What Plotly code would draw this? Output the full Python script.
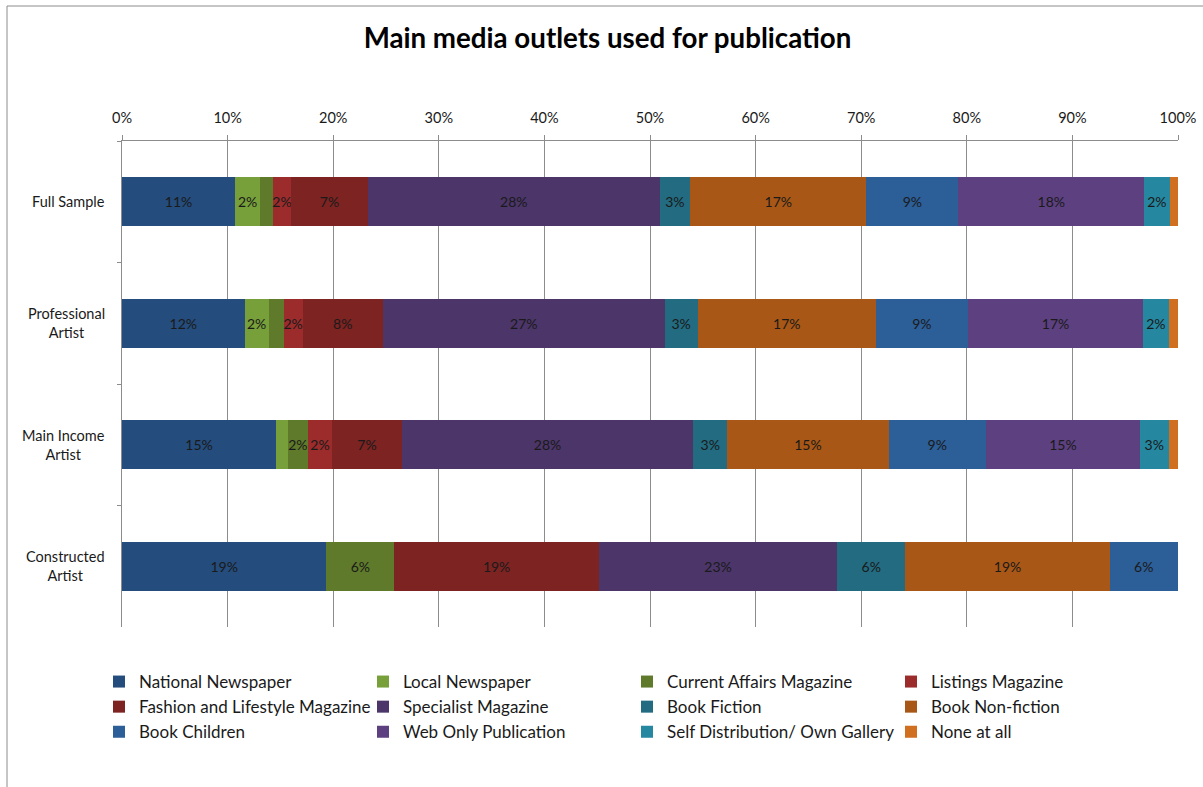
import plotly.graph_objects as go

# Respondent groups (top to bottom)
groups = ["Full Sample", "Professional Artist", "Main Income Artist", "Constructed Artist"]
group_labels = ["Full Sample", "Professional<br>Artist", "Main Income<br>Artist", "Constructed<br>Artist"]

# Media outlets, in stacking order
outlets = [
    "National Newspaper", "Local Newspaper", "Current Affairs Magazine", "Listings Magazine",
    "Fashion and Lifestyle Magazine", "Specialist Magazine", "Book Fiction", "Book Non-fiction",
    "Book Children", "Web Only Publication", "Self Distribution/ Own Gallery", "None at all",
]

# Share of each outlet (%) per group, same order as `groups`
national_newspaper = [10.7, 11.6, 14.6, 19.35]
local_newspaper = [2.4, 2.3, 1.1, 0.0]
current_affairs = [1.2, 1.4, 1.9, 6.45]
listings_magazine = [1.7, 1.8, 2.3, 0.0]
fashion_lifestyle = [7.3, 7.6, 6.6, 19.35]
specialist_magazine = [27.6, 26.7, 27.6, 22.58]
book_fiction = [2.9, 3.1, 3.2, 6.45]
book_non_fiction = [16.7, 16.9, 15.3, 19.35]
book_children = [8.7, 8.7, 9.2, 6.45]
web_only = [17.6, 16.6, 14.6, 0.0]
self_distribution = [2.4, 2.4, 2.7, 0.0]
none_at_all = [0.8, 0.9, 0.9, 0.0]

series = [
    national_newspaper, local_newspaper, current_affairs, listings_magazine,
    fashion_lifestyle, specialist_magazine, book_fiction, book_non_fiction,
    book_children, web_only, self_distribution, none_at_all,
]

colors = [
    "#244c7c", "#77a03a", "#5f7a2b", "#9c2c2c",
    "#7d2322", "#4b3569", "#226b80", "#a85716",
    "#2c5e98", "#5d4080", "#2687a0", "#d06f1f",
]

# Percentage ticks along the top
tick_vals = list(range(0, 101, 10))
tick_text = [f"{v}%" for v in tick_vals]

FONT = "Lato"
W, H = 1203, 787
L, R, T, B = 122, 25, 141, 160
plot_w = W - L - R
plot_h = H - T - B


def px_x(p):
    return (p - L) / plot_w


def px_y(p):
    return (H - B - p) / plot_h


fig = go.Figure()
for name, vals, col in zip(outlets, series, colors):
    labels = [f"{v:.0f}%" if v >= 1.5 else "" for v in vals]
    fig.add_trace(go.Bar(
        y=groups, x=vals, name=name, orientation="h",
        marker=dict(color=col, line=dict(width=0)),
        text=labels, textposition="inside", insidetextanchor="middle",
        textangle=0,
        textfont=dict(family=FONT, size=14, color="#1a1a1a"),
        constraintext="none", hoverinfo="name+x",
    ))

grid = "#8c8c8c"
fig.update_layout(
    width=W, height=H,
    margin=dict(l=L, r=R, t=T, b=B, autoexpand=False),
    barmode="stack", bargap=0.6,
    plot_bgcolor="white", paper_bgcolor="white",
    font=dict(family=FONT, size=14, color="#1a1a1a"),
    uniformtext=dict(mode="show", minsize=14),
    title=dict(
        text="<b>Main media outlets used for publication</b>",
        font=dict(family=FONT, size=27.7, color="#000000"),
        x=0.505, xref="container", xanchor="center",
        y=1 - 38 / H, yref="container", yanchor="middle",
    ),
    xaxis=dict(
        side="top", range=[0, 100], tickvals=tick_vals, ticktext=tick_text,
        showgrid=True, gridcolor=grid, gridwidth=1,
        showline=True, linecolor=grid, linewidth=1,
        ticks="outside", ticklen=5, tickcolor=grid,
        tickfont=dict(family=FONT, size=14.5, color="#1a1a1a"),
        ticklabelstandoff=6, zeroline=False, fixedrange=True,
    ),
    yaxis=dict(
        categoryorder="array", categoryarray=groups, autorange="reversed",
        showticklabels=False, showline=True, linecolor=grid, linewidth=1,
        ticks="outside", ticklen=4, tickcolor=grid, tickson="boundaries",
        showgrid=False, zeroline=False, fixedrange=True,
    ),
    legend=dict(
        orientation="h", x=px_x(99), xanchor="left", y=px_y(664), yanchor="top",
        entrywidth=219, entrywidthmode="pixels", traceorder="normal",
        itemwidth=30,
        font=dict(family=FONT, size=17, color="#1a1a1a"),
        itemclick=False, itemdoubleclick=False,
    ),
    showlegend=True,
)

# Group names on the left, centred within a right-aligned block
for g, lab in zip(groups, group_labels):
    fig.add_annotation(
        x=px_x(107), xref="paper", y=g, yref="y", text=lab, showarrow=False,
        xanchor="right", yanchor="middle", align="center",
        font=dict(family=FONT, size=14.5, color="#1a1a1a"),
    )

# Chart-area frame
fig.add_shape(
    type="rect", xref="paper", yref="paper",
    x0=px_x(7), x1=px_x(W + 10), y0=px_y(H + 10), y1=px_y(6),
    line=dict(color="#8c8c8c", width=1), fillcolor="rgba(0,0,0,0)", layer="below",
)

fig.write_html("out.html")
